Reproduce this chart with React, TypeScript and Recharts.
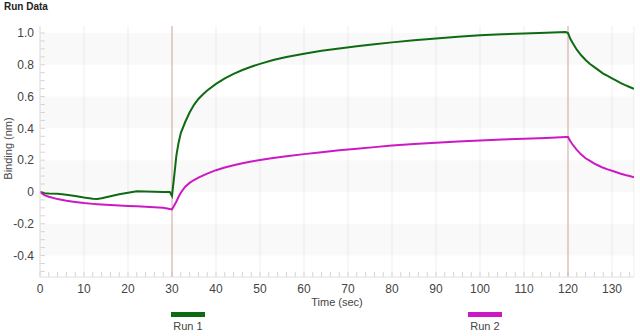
import { LineChart, Line, XAxis, YAxis, CartesianGrid, ReferenceLine, ReferenceArea } from "recharts";

// time (sec) and binding (nm)
const times = [
  0, 1, 2, 4, 6, 8, 10, 12, 13, 14, 16, 18, 20, 22, 24, 26, 28, 29.5,
  30, 30.5, 31, 31.5, 32, 33, 34, 35, 36, 37, 38, 40, 42, 44, 46, 48, 50,
  53, 56, 60, 64, 68, 72, 76, 80, 85, 90, 95, 100, 105, 110, 115, 119.5,
  120, 120.5, 121, 122, 123, 124, 125, 126, 127, 128, 129, 130, 131, 132, 133, 134, 135,
];
const run1 = [
  0, -0.008, -0.01, -0.012, -0.018, -0.025, -0.035, -0.043, -0.045, -0.04, -0.027, -0.015, -0.005, 0.004, 0.003, 0.002, 0.0, 0.0,
  -0.025, 0.1, 0.23, 0.31, 0.37, 0.44, 0.5, 0.548, 0.585, 0.613, 0.638, 0.68, 0.715, 0.743, 0.767, 0.788, 0.806,
  0.83, 0.849, 0.87, 0.888, 0.903, 0.917, 0.929, 0.941, 0.954, 0.966, 0.977, 0.986, 0.992, 0.997, 1.002, 1.006,
  1.0, 0.965, 0.94, 0.895, 0.86, 0.83, 0.805, 0.785, 0.765, 0.745, 0.73, 0.715, 0.7, 0.685, 0.672, 0.66, 0.648,
];
const run2 = [
  0, -0.02, -0.03, -0.045, -0.055, -0.063, -0.07, -0.075, -0.077, -0.079, -0.082, -0.085, -0.088, -0.09, -0.093, -0.096, -0.1, -0.107,
  -0.11, -0.085, -0.06, -0.03, -0.005, 0.033, 0.057, 0.075, 0.09, 0.103, 0.115, 0.137, 0.154, 0.168, 0.18, 0.191, 0.201,
  0.213, 0.225, 0.238, 0.25, 0.262, 0.272, 0.282, 0.292, 0.302, 0.31, 0.318, 0.323, 0.33, 0.335, 0.34, 0.345,
  0.345, 0.32, 0.3, 0.265, 0.235, 0.212, 0.195, 0.178, 0.165, 0.152, 0.142, 0.133, 0.124, 0.115, 0.107, 0.1, 0.092,
];

const seriesNames = ["Run 1", "Run 2"];
const seriesColors = ["#0f6b12", "#cc19c4"];

const xTicks = [0, 10, 20, 30, 40, 50, 60, 70, 80, 90, 100, 110, 120, 130];
const yTicks = [-0.4, -0.2, 0, 0.2, 0.4, 0.6, 0.8, 1.0];
const bands = [[0.8, 1.0], [0.4, 0.6], [0, 0.2], [-0.4, -0.2]];
const stepMarkers = [30, 120];

const X_MAX = 135;
const Y_MIN = -0.535;
const Y_MAX = 1.044;

const xMinor = Array.from({ length: 68 }, (_, i) => i * 2);
const yMinor = Array.from({ length: 31 }, (_, i) => Math.round((-0.5 + i * 0.05) * 100) / 100);

const data = times.map((t, i) => ({ t, run1: run1[i], run2: run2[i] }));

const FONT = "'Liberation Sans', Arial, sans-serif";

export default function App() {
  return (
    <div style={{ position: "absolute", left: 0, top: 0, width: 640, height: 336, background: "#fff", fontFamily: FONT }}>
      <div style={{ position: "absolute", left: 4, top: 1, fontSize: 10, fontWeight: "bold", color: "#222" }}>Run Data</div>
      <LineChart width={640} height={310} data={data} margin={{ top: 26, right: 6, bottom: 0, left: 0 }}>
        {bands.map(([a, b], i) => (
          <ReferenceArea key={`band-${i}`} y1={a} y2={b} fill="#000" fillOpacity={0.025} stroke="none" ifOverflow="visible" />
        ))}
        <CartesianGrid horizontal={false} stroke="#efefef" />
        <XAxis
          dataKey="t"
          type="number"
          domain={[0, X_MAX]}
          ticks={xTicks}
          allowDataOverflow
          height={33}
          tickLine={false}
          tickSize={0}
          tickMargin={7}
          axisLine={{ stroke: "#e0e0e0" }}
          tick={{ fontSize: 12, fill: "#444", fontFamily: FONT }}
          label={(props: any) => {
            const vb = props.viewBox;
            return (
              <text x={vb.x + vb.width / 2} y={306} textAnchor="middle" fontSize={11} fill="#444" fontFamily={FONT}>
                Time (sec)
              </text>
            );
          }}
        />
        <YAxis
          type="number"
          domain={[Y_MIN, Y_MAX]}
          ticks={yTicks}
          allowDataOverflow
          width={40}
          tickLine={false}
          tickSize={0}
          tickMargin={6}
          axisLine={{ stroke: "#e0e0e0" }}
          tick={{ fontSize: 12, fill: "#444", fontFamily: FONT }}
          tickFormatter={(v: number) => (v === 0 ? "0" : v.toFixed(1))}
          label={(props: any) => {
            const vb = props.viewBox;
            const cy = vb.y + vb.height / 2 - 3;
            return (
              <text x={8} y={cy} transform={`rotate(-90 8 ${cy})`} textAnchor="middle" dominantBaseline="central" fontSize={11} fill="#444" fontFamily={FONT}>
                Binding (nm)
              </text>
            );
          }}
        />
        {xMinor.map((t) => (
          <ReferenceLine key={`xm-${t}`} segment={[{ x: t, y: Y_MIN }, { x: t, y: Y_MIN + 0.032 }]} stroke="#d4d4d4" ifOverflow="visible" />
        ))}
        {yMinor.map((v) => (
          <ReferenceLine key={`ym-${v}`} segment={[{ x: 0, y: v }, { x: 1.1, y: v }]} stroke="#d4d4d4" ifOverflow="visible" />
        ))}
        {stepMarkers.map((t) => (
          <ReferenceLine key={`step-${t}`} x={t} stroke="#d3a9a6" strokeWidth={1} />
        ))}
        <Line type="linear" dataKey="run1" name={seriesNames[0]} stroke={seriesColors[0]} strokeWidth={2} dot={false} isAnimationActive={false} />
        <Line type="linear" dataKey="run2" name={seriesNames[1]} stroke={seriesColors[1]} strokeWidth={2} dot={false} isAnimationActive={false} />
      </LineChart>
      {/* legend below the chart */}
      {[{ left: 171, cx: 188 }, { left: 468, cx: 485 }].map((pos, i) => (
        <div key={seriesNames[i]}>
          <div style={{ position: "absolute", left: pos.left, top: 312, width: 34, height: 5, background: seriesColors[i] }} />
          <div style={{ position: "absolute", left: pos.cx - 30, width: 60, top: 320, textAlign: "center", fontSize: 11, color: "#444" }}>
            {seriesNames[i]}
          </div>
        </div>
      ))}
    </div>
  );
}
